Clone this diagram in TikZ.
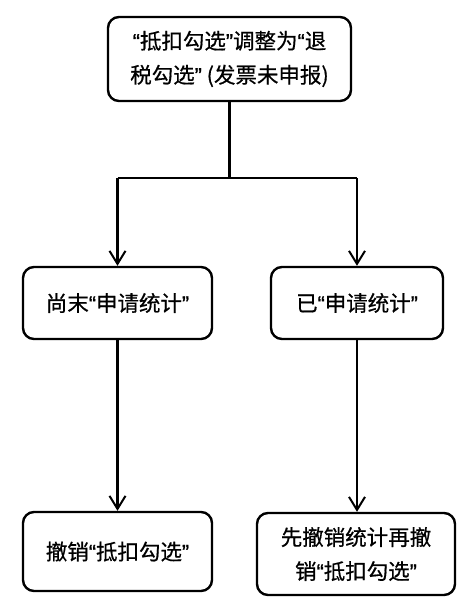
\documentclass[tikz,border=0pt]{standalone}
\usepackage{fontspec}
\setmainfont{Noto Sans CJK SC}[FakeBold=0.6]
\newfontfamily\qfont{Liberation Sans}[FakeBold=1]
\newcommand\qo{{\qfont “}}
\newcommand\qc{{\qfont ”}}
\usetikzlibrary{arrows.meta}
\begin{document}
\begin{tikzpicture}[x=1pt,y=-1pt,
  box/.style={draw,line width=2.4pt,rounded corners=11pt,align=center,inner sep=0pt,
    font=\fontsize{21.5}{34}\selectfont},
  conn/.style={line width=2.4pt},
  arr/.style={conn,-{Straight Barb[length=13pt,width=16pt,line width=2pt]}}]
\useasboundingbox (0,0) rectangle (476,613);
\node[box,minimum width=243pt,minimum height=84pt] (top) at (229.5,59) {\qo 抵扣勾选\qc 调整为\qo 退\\税勾选\qc\ (发票未申报)};
\node[box,minimum width=189pt,minimum height=72pt] (midL) at (117.5,303) {尚末\qo 申请统计\qc};
\node[box,minimum width=172pt,minimum height=72pt] (midR) at (357,303) {已\qo 申请统计\qc};
\node[box,minimum width=189pt,minimum height=79pt] (botL) at (117.5,551.5) {撤销\qo 抵扣勾选\qc};
\node[box,minimum width=198pt,minimum height=82pt] (botR) at (356,554) {先撤销统计再撤\\销\qo 抵扣勾选\qc};
\coordinate (j) at (229.5,178);
\coordinate (jl) at (117.5,178);
\coordinate (jr) at (357,178);
\draw[conn] (top.south) -- (j);
\draw[conn] (jl) -- (jr);
\draw[arr] (jl) -- (midL.north);
\draw[arr] (jr) -- (midR.north);
\draw[arr] (midL.south) -- (botL.north);
\draw[arr] (midR.south) -- (midR.south |- botR.north);
\end{tikzpicture}
\end{document}
